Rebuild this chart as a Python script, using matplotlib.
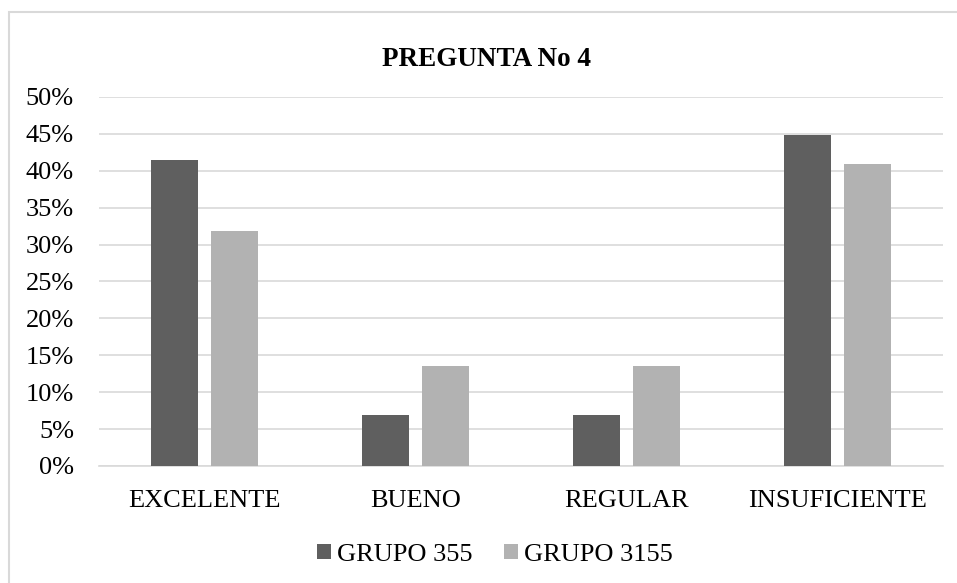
import numpy as np
import matplotlib
matplotlib.use("Agg")
import matplotlib.pyplot as plt
from matplotlib.patches import Rectangle
from matplotlib.ticker import PercentFormatter

categorias = ["EXCELENTE", "BUENO", "REGULAR", "INSUFICIENTE"]
grupo_355 = [41.4, 6.9, 6.9, 44.8]
grupo_3155 = [31.8, 13.6, 13.6, 40.9]
series = ["GRUPO 355", "GRUPO 3155"]

plt.rcParams["font.family"] = ["Liberation Serif", "DejaVu Serif"]

fig = plt.figure(figsize=(9.57, 5.83), dpi=100)
ax = fig.add_axes([0.1034, 0.2007, 0.882, 0.633])

# chart border (light gray frame)
fig.patches.append(Rectangle((9 / 957, -0.1), 1.2, 1 - 12 / 583 + 0.1, transform=fig.transFigure,
                             fill=False, edgecolor="#d9d9d9", linewidth=1.5))

x = np.arange(len(categorias))
w = 0.223
ax.bar(x - 0.142, grupo_355, w, color="#5f5f5f", label=series[0], zorder=3)
ax.bar(x + 0.142, grupo_3155, w, color="#b2b2b2", label=series[1], zorder=3)

ax.set_xlim(-0.5, 3.5)
ax.set_ylim(0, 50)
ax.set_yticks(np.arange(0, 51, 5))
ax.yaxis.set_major_formatter(PercentFormatter(decimals=0))
ax.grid(axis="y", color="#d9d9d9", linewidth=1.2, zorder=0)
for s in ["top", "right", "left"]:
    ax.spines[s].set_visible(False)
ax.spines["bottom"].set_color("#d9d9d9")
ax.spines["bottom"].set_linewidth(1.2)
ax.tick_params(axis="both", length=0, labelsize=19, colors="black")
ax.tick_params(axis="y", pad=18)
ax.tick_params(axis="x", pad=17)
ax.set_xticks(x)
ax.set_xticklabels(categorias)

fig.text(487 / 957, 1 - 60 / 583, "PREGUNTA No 4", ha="center", va="center",
         fontsize=19.5, fontweight="bold")

fig.legend(loc="center", bbox_to_anchor=(495 / 957, 1 - 555 / 583), ncol=2, frameon=False,
           fontsize=19, handlelength=0.53, handleheight=0.53, handletextpad=0.23,
           columnspacing=1.17, borderpad=0)

fig.savefig("out.png", dpi=100)
